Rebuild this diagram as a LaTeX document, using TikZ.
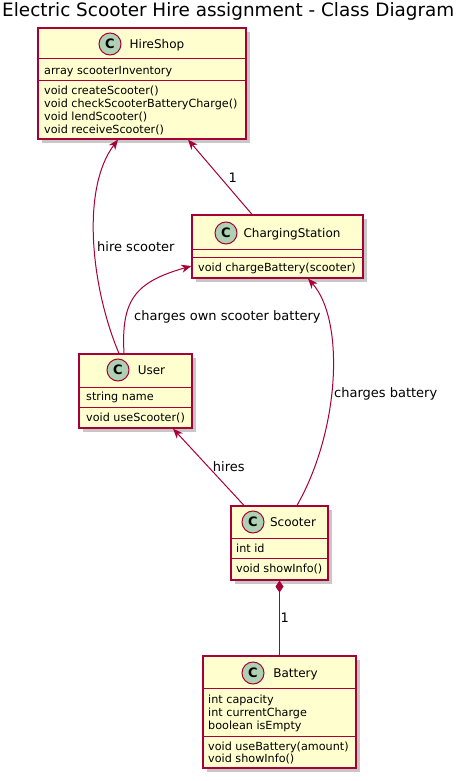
\documentclass[tikz,border=0pt]{standalone}
\usepackage{fontspec}
\setmainfont{DejaVu Sans}
\usetikzlibrary{arrows.meta,shadows}
\definecolor{umlfill}{HTML}{FEFECE}
\definecolor{umlborder}{HTML}{A80036}
\definecolor{umlcirc}{HTML}{ADD1B2}
\tikzset{
  classbox/.style={draw=umlborder, fill=umlfill, line width=1.2pt, inner sep=0pt,
    drop shadow={shadow xshift=4pt, shadow yshift=-4pt, opacity=0.22, fill=black}},
  sepline/.style={draw=umlborder, line width=1pt},
  circ/.style={circle, draw=umlborder, fill=umlcirc, minimum size=22pt, inner sep=0pt,
    line width=1pt, font=\fontsize{13}{13}\selectfont\bfseries},
  cname/.style={anchor=base, font=\fontsize{12}{14}\selectfont, inner sep=0pt},
  member/.style={anchor=base west, font=\fontsize{11.2}{13}\selectfont, inner sep=0pt},
  link/.style={draw=umlborder, line width=1pt, -{Stealth[length=10pt,width=8pt,inset=3pt]}},
  comp/.style={draw=umlborder, line width=1pt, {Diamond[length=12pt,width=8pt]}-},
  lbl/.style={anchor=base west, font=\fontsize{13}{15}\selectfont, inner sep=0pt},
}
\begin{document}
\begin{tikzpicture}[x=1pt,y=-1pt]
\useasboundingbox (0,0) rectangle (466,781);
\fill[white] (0,0) rectangle (466,781);

\node[anchor=base west, font=\fontsize{18.4}{20}\selectfont, inner sep=0pt] (title) at (2,17)
  {Electric Scooter Hire assignment - Class Diagram};

% HireShop
\node[classbox, minimum width=208pt, minimum height=111pt] (hs) at (142,83.5) {};
\draw[sepline] (hs.west |- 0,59) -- (hs.east |- 0,59);
\draw[sepline] (hs.west |- 0,81) -- (hs.east |- 0,81);
\node[circ] (hsc) at (110,44) {C};
\node[cname] (hsn) at (157,48.5) {HireShop};
\node[member] (hsa1) at (44,74.5) {array scooterInventory};
\node[member] (hsm1) at (44,95) {void createScooter()};
\node[member] (hsm2) at (44,107.7) {void checkScooterBatteryCharge()};
\node[member] (hsm3) at (44,120.3) {void lendScooter()};
\node[member] (hsm4) at (44,133) {void receiveScooter()};

% ChargingStation
\node[classbox, minimum width=171pt, minimum height=63pt] (cs) at (277.5,246.5) {};
\draw[sepline] (cs.west |- 0,249) -- (cs.east |- 0,249);
\draw[sepline] (cs.west |- 0,257) -- (cs.east |- 0,257);
\node[circ] (csc) at (226,233) {C};
\node[cname] (csn) at (292,237.4) {ChargingStation};
\node[member] (csm1) at (198,271.7) {void chargeBattery(scooter)};

% User
\node[classbox, minimum width=113pt, minimum height=74pt] (usr) at (135.5,391) {};
\draw[sepline] (usr.west |- 0,387) -- (usr.east |- 0,387);
\draw[sepline] (usr.west |- 0,407) -- (usr.east |- 0,407);
\node[circ] (usrc) at (118,370) {C};
\node[cname] (usrn) at (151.5,374.4) {User};
\node[member] (usra1) at (86,400.7) {string name};
\node[member] (usrm1) at (86,421) {void useScooter()};

% Scooter
\node[classbox, minimum width=97pt, minimum height=74pt] (sc) at (279.5,543) {};
\draw[sepline] (sc.west |- 0,538) -- (sc.east |- 0,538);
\draw[sepline] (sc.west |- 0,558) -- (sc.east |- 0,558);
\node[circ] (scc) at (253,522) {C};
\node[cname] (scn) at (293,526.4) {Scooter};
\node[member] (sca1) at (236,552.3) {int id};
\node[member] (scm1) at (236,572.7) {void showInfo()};

% Battery
\node[classbox, minimum width=153pt, minimum height=112pt] (bat) at (279.5,712) {};
\draw[sepline] (bat.west |- 0,688) -- (bat.east |- 0,688);
\draw[sepline] (bat.west |- 0,736) -- (bat.east |- 0,736);
\node[circ] (batc) at (253,673) {C};
\node[cname] (batn) at (295.5,677.4) {Battery};
\node[member] (bata1) at (208,703) {int capacity};
\node[member] (bata2) at (208,716) {int currentCharge};
\node[member] (bata3) at (208,729) {boolean isEmpty};
\node[member] (batm1) at (208,750) {void useBattery(amount)};
\node[member] (batm2) at (208,762.5) {void showInfo()};

% connectors
\draw[link] ([xshift=-16.5pt]usr.north) .. controls (92,290) and (80,190) .. ([xshift=-24pt]hs.south);
\node[lbl] (l1) at (97,251.7) {hire scooter};

\draw[link] ([xshift=-25.5pt]cs.north) -- ([xshift=46pt]hs.south);
\node[lbl] (l2) at (228.5,182.7) {1};

\draw[link] ([xshift=-11.5pt]usr.north) .. controls (121,300) and (135,282) .. ([yshift=-19.5pt]cs.west);
\node[lbl] (l3) at (134,320.7) {charges own scooter battery};

\draw[link] ([xshift=17.5pt]sc.north) .. controls (340,430) and (345,320) .. ([xshift=30.5pt]cs.south);
\node[lbl] (l4) at (334,397.3) {charges battery};

\draw[link] ([xshift=-35.5pt]sc.north) -- ([xshift=37.5pt]usr.south);
\node[lbl] (l5) at (212.7,471.7) {hires};

\draw[comp] (sc.south) -- (bat.north);
\node[lbl] (l6) at (280.5,622.7) {1};
\end{tikzpicture}
\end{document}
